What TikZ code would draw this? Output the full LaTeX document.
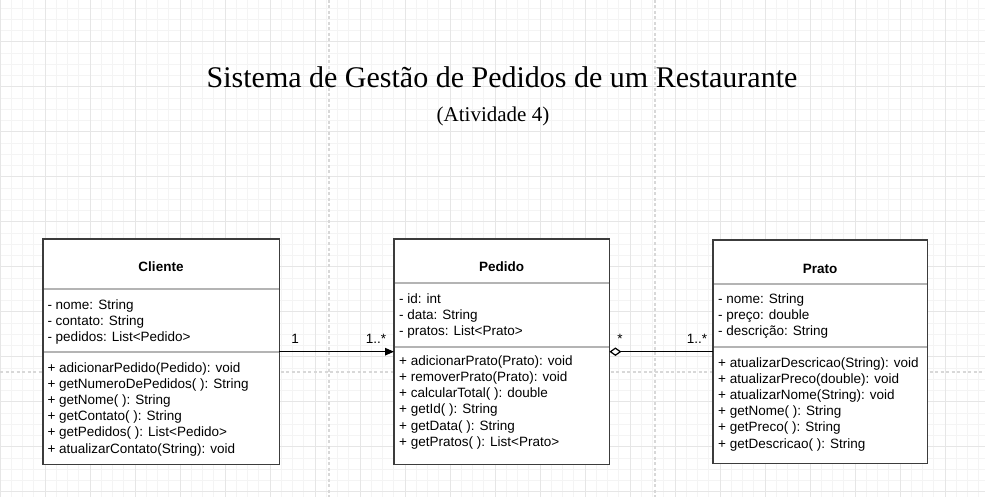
\documentclass[tikz,border=0pt]{standalone}
\usepackage{fontspec}
\setmainfont{Liberation Serif}
\newfontfamily\arialf{Liberation Sans}
\usetikzlibrary{arrows.meta}
\definecolor{gridminor}{HTML}{F4F4F4}
\definecolor{gridmajor}{HTML}{E6E6E6}
\definecolor{pagebrk}{HTML}{D8D8D8}
\definecolor{boxborder}{HTML}{3C3C3C}
\definecolor{sepline}{HTML}{B4B4B4}
\begin{document}
\begin{tikzpicture}[x=1pt,y=-1pt,
  boxfill/.style={fill=white, draw=none, inner sep=0pt, anchor=north west},
  boxline/.style={draw=boxborder, line width=1.5pt},
  sep/.style={draw=sepline, line width=1.3pt},
  member/.style={font=\arialf\fontsize{13.5}{16}\selectfont, anchor=base west, inner sep=0pt},
  ctitle/.style={font=\arialf\bfseries\fontsize{13.5}{16}\selectfont, anchor=base, inner sep=0pt},
  mult/.style={font=\arialf\fontsize{13.5}{16}\selectfont, anchor=base, inner sep=0pt},
  assoc/.style={line width=1.2pt, draw=black},
  pgbreak/.style={draw=pagebrk, line width=1.2pt, dash pattern=on 3pt off 2.5pt},
  ]
\useasboundingbox (0,0) rectangle (985,497);
\fill[white] (0,0) rectangle (985,497);
% grid
\begin{scope}
\clip (0,0) rectangle (985,497);
\foreach \i in {0,...,88} \draw[gridminor, line width=0.8pt] (\i*11.25,0) -- (\i*11.25,497);
\foreach \j in {0,...,45} \draw[gridminor, line width=0.8pt] (0,-3.3+\j*11.25) -- (985,-3.3+\j*11.25);
\foreach \i in {0,...,22} \draw[gridmajor, line width=0.9pt] (\i*45,0) -- (\i*45,497);
\foreach \j in {0,...,11} \draw[gridmajor, line width=0.9pt] (0,-3.3+\j*45) -- (985,-3.3+\j*45);
\draw[pgbreak] (329,0) -- (329,497);
\draw[pgbreak] (655,0) -- (655,497);
\draw[pgbreak] (0,372) -- (985,372);
\end{scope}

% title
\node[font=\fontsize{30}{34}\selectfont, anchor=base, inner sep=0pt] (title) at (502,87.3) {Sistema de Gestão de Pedidos de um Restaurante};
\node[font=\fontsize{21}{24}\selectfont, anchor=base, inner sep=0pt] (subtitle) at (493,121.5) {(Atividade 4)};

% Cliente
\node[boxfill, minimum width=236pt, minimum height=225pt] (cliente) at (43,239) {};
\draw[sep] (43,289) -- (279,289);
\draw[sep] (43,352) -- (279,352);
\draw[boxline] (cliente.north west) rectangle (cliente.south east);
\node[ctitle] (clienteT) at (161,271) {Cliente};
\foreach [count=\k] \t in {{- nome: String},{- contato: String},{- pedidos: List<Pedido>}}
  \node[member] (clA\k) at (47.3,309+16*\k-16) {\t};
\foreach [count=\k] \t in {{+ adicionarPedido(Pedido): void},{+ getNumeroDePedidos( ): String},{+ getNome( ): String},{+ getContato( ): String},{+ getPedidos( ): List<Pedido>},{+ atualizarContato(String): void}}
  \node[member] (clM\k) at (47.3,372+16.2*\k-16.2) {\t};

% Pedido
\node[boxfill, minimum width=215pt, minimum height=225pt] (pedido) at (394,239) {};
\draw[sep] (394,283) -- (609,283);
\draw[sep] (394,347) -- (609,347);
\draw[boxline] (pedido.north west) rectangle (pedido.south east);
\node[ctitle] (pedidoT) at (501.5,271) {Pedido};
\foreach [count=\k] \t in {{- id: int},{- data: String},{- pratos: List<Prato>}}
  \node[member] (peA\k) at (399,303+16*\k-16) {\t};
\foreach [count=\k] \t in {{+ adicionarPrato(Prato): void},{+ removerPrato(Prato): void},{+ calcularTotal( ): double},{+ getId( ): String},{+ getData( ): String},{+ getPratos( ): List<Prato>}}
  \node[member] (peM\k) at (399,365+16.3*\k-16.3) {\t};

% Prato
\node[boxfill, minimum width=214pt, minimum height=223pt] (prato) at (713,240) {};
\draw[sep] (713,284) -- (927,284);
\draw[sep] (713,347) -- (927,347);
\draw[boxline] (prato.north west) rectangle (prato.south east);
\node[ctitle] (pratoT) at (820,273) {Prato};
\foreach [count=\k] \t in {{- nome: String},{- preço: double},{- descrição: String}}
  \node[member] (prA\k) at (718,303+16.2*\k-16.2) {\t};
\foreach [count=\k] \t in {{+ atualizarDescricao(String): void},{+ atualizarPreco(double): void},{+ atualizarNome(String): void},{+ getNome( ): String},{+ getPreco( ): String},{+ getDescricao( ): String}}
  \node[member] (prM\k) at (718,367+16.2*\k-16.2) {\t};

% connectors
\draw[assoc, -{Triangle[length=9pt,width=7.5pt]}] (cliente.east) -- (pedido.west);
\draw[assoc, {Diamond[open,length=12pt,width=8.5pt]}-] (pedido.east) -- (prato.west);
\node[mult] (m1) at (295,343) {1};
\node[mult] (m2) at (376,343) {1..*};
\node[mult] (m3) at (620,343) {*};
\node[mult] (m4) at (697,343) {1..*};
\end{tikzpicture}
\end{document}
